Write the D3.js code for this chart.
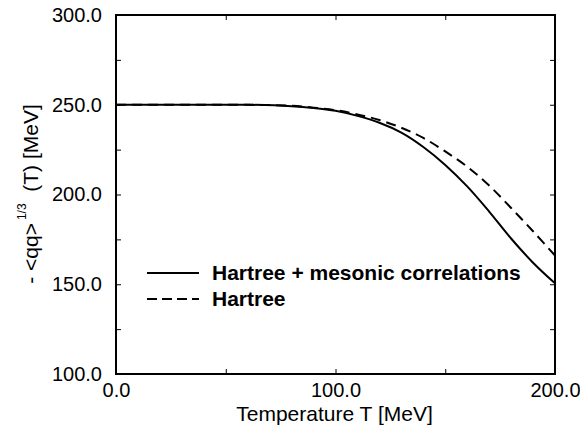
<!doctype html>
<html lang="en">
<head>
<meta charset="utf-8">
<title>Chiral condensate vs temperature</title>
<script src="https://cdn.jsdelivr.net/npm/d3@7"></script>
<style>
  body { margin: 0; background: #fff; }
  svg { display: block; font-family: "Liberation Sans", Arial, Helvetica, sans-serif; }
</style>
</head>
<body>
<svg id="chart" width="580" height="429"></svg>
<script>
// temperature grid [MeV]
var temps = [0, 20, 40, 60, 80, 90, 100, 110, 120, 130, 140, 150, 160, 170, 180, 190, 200];
// Hartree + mesonic correlations
var corrValues = [250, 250, 250, 250, 249.2, 248.2, 246.6, 243.8, 240, 234.5, 226.5, 216.5, 204.5, 190.5, 175.5, 162, 150.5];
// Hartree only
var hartreeValues = [250, 250, 250, 250, 249.4, 248.4, 247, 244.6, 241.5, 237.2, 231.5, 224, 215.5, 205, 192.5, 179.5, 166];

var xTicks = [0, 50, 100, 150, 200];
var xLabels = [0, 100, 200];
var yTicks = [100, 125, 150, 175, 200, 225, 250, 275, 300];
var yLabels = [100, 150, 200, 250, 300];

var legendNames = ["Hartree + mesonic correlations", "Hartree"];

var svg = d3.select("#chart");
// plot box (window.top is reserved, so use own names)
var pLeft = 116, pRight = 555, pTop = 15, pBottom = 374;

var x = d3.scaleLinear().domain([0, 200]).range([pLeft, pRight]);
var y = d3.scaleLinear().domain([100, 300]).range([pBottom, pTop]);

function fmt(d) { return d3.format(".1f")(d); }

// frame
svg.append("rect")
   .attr("x", pLeft).attr("y", pTop)
   .attr("width", pRight - pLeft).attr("height", pBottom - pTop)
   .attr("fill", "none").attr("stroke", "#000").attr("stroke-width", 2);

// axes with inward ticks
var bottomAxis = d3.axisBottom(x).tickValues(xTicks).tickSize(-5).tickPadding(9)
   .tickFormat(function(d) { return xLabels.indexOf(d) >= 0 ? fmt(d) : ""; });
var topAxis = d3.axisTop(x).tickValues(xTicks).tickSize(-5).tickFormat("");
var leftAxis = d3.axisLeft(y).tickValues(yTicks).tickSize(-5).tickPadding(14)
   .tickFormat(function(d) { return yLabels.indexOf(d) >= 0 ? fmt(d) : ""; });
var rightAxis = d3.axisRight(y).tickValues(yTicks).tickSize(-5).tickFormat("");

function styleAxis(g) {
   g.select(".domain").remove();
   g.selectAll(".tick line").attr("stroke", "#000").attr("stroke-width", 1);
   g.selectAll("text").attr("font-size", 20).attr("fill", "#000")
      .attr("font-family", "\"Liberation Sans\", Arial, sans-serif");
}

svg.append("g").attr("transform", "translate(0," + pBottom + ")").call(bottomAxis).call(styleAxis);
svg.append("g").attr("transform", "translate(0," + pTop + ")").call(topAxis).call(styleAxis);
svg.append("g").attr("transform", "translate(" + pLeft + ",0)").call(leftAxis).call(styleAxis);
svg.append("g").attr("transform", "translate(" + pRight + ",0)").call(rightAxis).call(styleAxis);

// axis titles
svg.append("text")
   .attr("x", (pLeft + pRight) / 2 - 1).attr("y", 421)
   .attr("text-anchor", "middle").attr("font-size", 21)
   .text("Temperature T [MeV]");

var yt = svg.append("text")
   .attr("transform", "translate(38,194) rotate(-90)")
   .attr("text-anchor", "middle").attr("font-size", 21)
   .attr("xml:space", "preserve");
yt.append("tspan").text("- <qq>");
yt.append("tspan").attr("font-size", 12).attr("dy", -12).attr("dx", 3).text("1/3");
yt.append("tspan").attr("dy", 12).text("  (T) [MeV]");

// curves
var line = d3.line().curve(d3.curveCatmullRom.alpha(0.5));
var corrPts = temps.map(function(t, i) { return [x(t), y(corrValues[i])]; });
var hartPts = temps.map(function(t, i) { return [x(t), y(hartreeValues[i])]; });

svg.append("path").attr("d", line(hartPts))
   .attr("fill", "none").attr("stroke", "#000").attr("stroke-width", 2)
   .attr("stroke-dasharray", "10,6");
svg.append("path").attr("d", line(corrPts))
   .attr("fill", "none").attr("stroke", "#000").attr("stroke-width", 2);

// legend
var legend = svg.append("g");
legendNames.forEach(function(name, i) {
   var ly = 273 + i * 26;
   legend.append("line")
      .attr("x1", 147).attr("x2", 199).attr("y1", ly).attr("y2", ly)
      .attr("stroke", "#000").attr("stroke-width", 2)
      .attr("stroke-dasharray", i == 1 ? "10,5" : null);
   legend.append("text")
      .attr("x", 212).attr("y", ly + 7)
      .attr("font-size", 21).attr("font-weight", "bold")
      .text(name);
});
</script>
</body>
</html>
